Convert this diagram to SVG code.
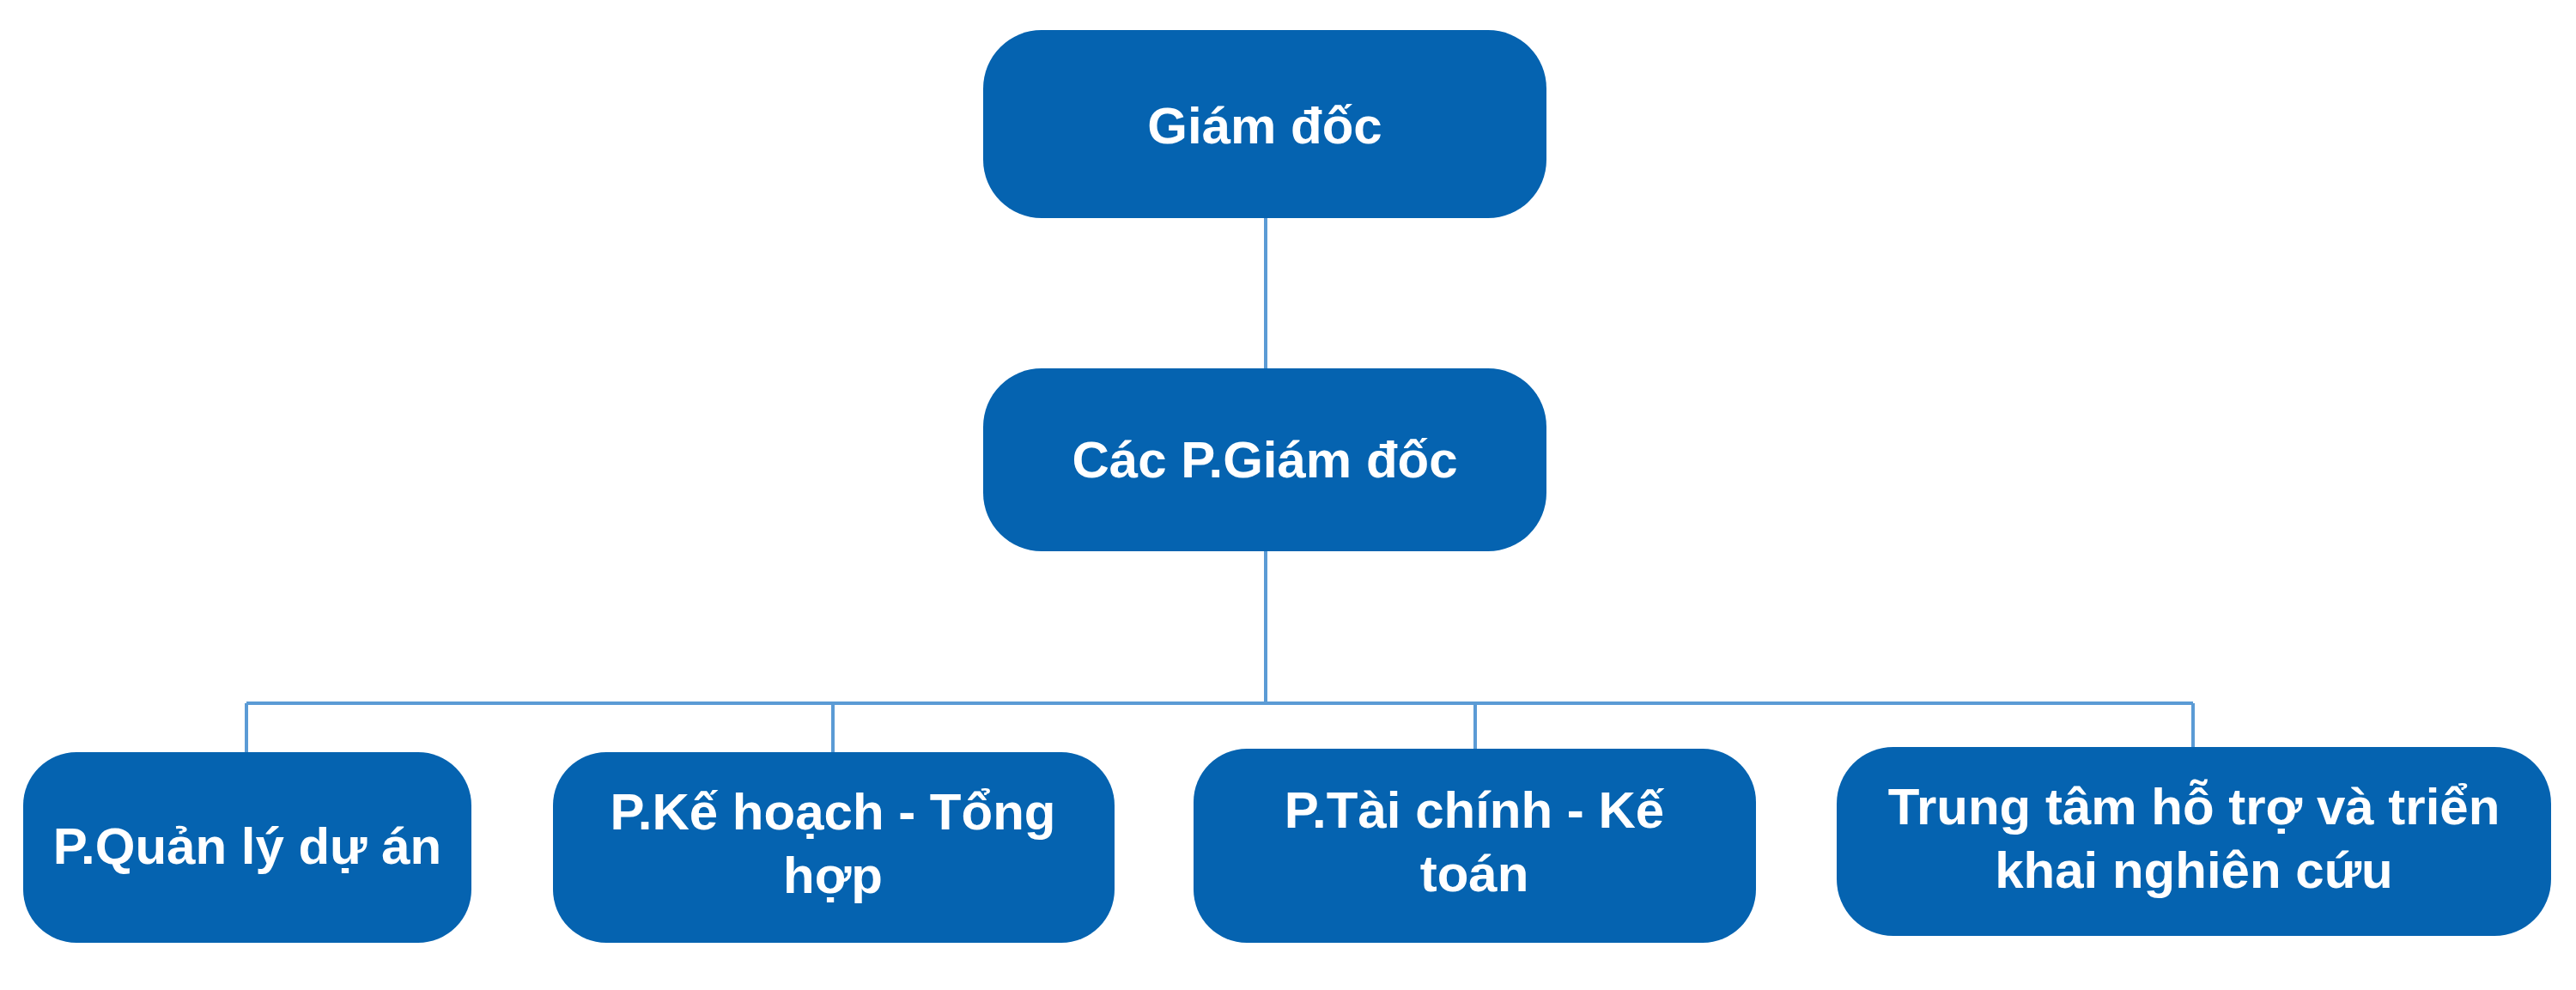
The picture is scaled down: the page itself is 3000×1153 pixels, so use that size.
<svg xmlns="http://www.w3.org/2000/svg" width="3000" height="1153" viewBox="0 0 3000 1153">
<style>
.box{fill:#0563B0;}
.lbl{font-family:"Liberation Sans",Arial,sans-serif;font-weight:bold;font-size:60px;fill:#FFFFFF;text-anchor:middle;}
.conn{stroke:#5B9BD5;stroke-width:4;fill:none;}
</style>
<rect width="3000" height="1153" fill="#FFFFFF"/>
<g id="connectors">
<line class="conn" x1="1474" y1="254" x2="1474" y2="430"/>
<line class="conn" x1="1474" y1="641" x2="1474" y2="819"/>
<line class="conn" x1="287" y1="819" x2="2554" y2="819"/>
<line class="conn" x1="287" y1="819" x2="287" y2="876"/>
<line class="conn" x1="970" y1="819" x2="970" y2="876"/>
<line class="conn" x1="1718" y1="819" x2="1718" y2="872"/>
<line class="conn" x1="2554" y1="819" x2="2554" y2="870"/>
</g>
<g id="node-giamdoc">
<rect class="box" x="1145" y="35" width="656" height="219" rx="68" ry="68"/>
<text class="lbl" x="1473" y="167">Giám đốc</text>
</g>
<g id="node-pgiamdoc">
<rect class="box" x="1145" y="429" width="656" height="213" rx="68" ry="68"/>
<text class="lbl" x="1473" y="556">Các P.Giám đốc</text>
</g>
<g id="node-qlda">
<rect class="box" x="27" y="876" width="522" height="222" rx="62" ry="62"/>
<text class="lbl" x="288" y="1006">P.Quản lý dự án</text>
</g>
<g id="node-khth">
<rect class="box" x="644" y="876" width="654" height="222" rx="62" ry="62"/>
<text class="lbl" x="970" y="966">P.Kế hoạch - Tổng</text>
<text class="lbl" x="970" y="1040">hợp</text>
</g>
<g id="node-tckt">
<rect class="box" x="1390" y="872" width="655" height="226" rx="62" ry="62"/>
<text class="lbl" x="1717" y="964">P.Tài chính - Kế</text>
<text class="lbl" x="1717" y="1038">toán</text>
</g>
<g id="node-ttht">
<rect class="box" x="2139" y="870" width="832" height="220" rx="66" ry="66"/>
<text class="lbl" x="2555" y="960">Trung tâm hỗ trợ và triển</text>
<text class="lbl" x="2555" y="1034">khai nghiên cứu</text>
</g>
</svg>
